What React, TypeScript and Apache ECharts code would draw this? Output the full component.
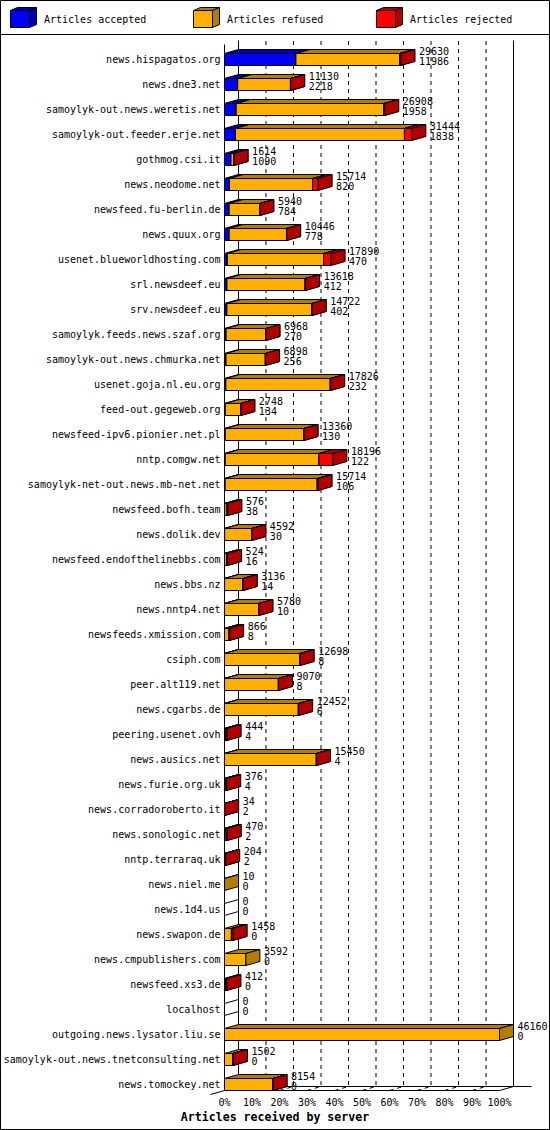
import React, { useEffect, useRef } from "react";
import * as echarts from "echarts";

const servers = [
  "news.hispagatos.org",
  "news.dne3.net",
  "samoylyk-out.news.weretis.net",
  "samoylyk-out.feeder.erje.net",
  "gothmog.csi.it",
  "news.neodome.net",
  "newsfeed.fu-berlin.de",
  "news.quux.org",
  "usenet.blueworldhosting.com",
  "srl.newsdeef.eu",
  "srv.newsdeef.eu",
  "samoylyk.feeds.news.szaf.org",
  "samoylyk-out.news.chmurka.net",
  "usenet.goja.nl.eu.org",
  "feed-out.gegeweb.org",
  "newsfeed-ipv6.pionier.net.pl",
  "nntp.comgw.net",
  "samoylyk-net-out.news.mb-net.net",
  "newsfeed.bofh.team",
  "news.dolik.dev",
  "newsfeed.endofthelinebbs.com",
  "news.bbs.nz",
  "news.nntp4.net",
  "newsfeeds.xmission.com",
  "csiph.com",
  "peer.alt119.net",
  "news.cgarbs.de",
  "peering.usenet.ovh",
  "news.ausics.net",
  "news.furie.org.uk",
  "news.corradoroberto.it",
  "news.sonologic.net",
  "nntp.terraraq.uk",
  "news.niel.me",
  "news.1d4.us",
  "news.swapon.de",
  "news.cmpublishers.com",
  "newsfeed.xs3.de",
  "localhost",
  "outgoing.news.lysator.liu.se",
  "samoylyk-out.news.tnetconsulting.net",
  "news.tomockey.net",
];

// Total articles received (first label line)
const totals = [
  29630, 11130, 26908, 31444, 1614, 15714, 5940, 10446, 17890, 13618, 14722,
  6968, 6898, 17826, 2748, 13360, 18196, 15714, 576, 4592, 524, 3136, 5780,
  866, 12698, 9070, 12452, 444, 15450, 376, 34, 470, 204, 10, 0, 1458, 3592,
  412, 0, 46160, 1502, 8154,
];

// Articles accepted (second label line, blue)
const accepted = [
  11986, 2218, 1958, 1838, 1090, 820, 784, 778, 470, 412, 402, 270, 256, 232,
  134, 130, 122, 106, 38, 30, 16, 14, 10, 8, 8, 8, 6, 4, 4, 4, 2, 2, 2, 0, 0,
  0, 0, 0, 0, 0, 0, 0,
];

// Articles refused (orange), estimated from the bars
const refused = [
  17394, 8852, 24800, 28366, 484, 13954, 5116, 9628, 16190, 13106, 14270,
  6668, 6592, 17514, 2594, 13190, 15724, 15458, 388, 4522, 388, 3092, 5740,
  758, 12640, 9032, 12386, 240, 15406, 222, 0, 268, 102, 10, 0, 1158, 3592,
  162, 0, 46160, 1352, 8124,
];

// Articles rejected (red), estimated from the bars
const rejected = [
  250, 60, 150, 1240, 40, 940, 40, 40, 1230, 100, 50, 30, 50, 80, 20, 40, 2350,
  150, 150, 40, 120, 30, 30, 100, 50, 30, 60, 200, 40, 150, 32, 200, 100, 0, 0,
  300, 0, 250, 0, 0, 150, 30,
];

const legendNames = ["Articles accepted", "Articles refused", "Articles rejected"];
const axisTitle = "Articles received by server";
const tickCount = 10;

const FRONT = ["#0000FF", "#FFAF00", "#FF0000"];
const DARK = ["#0000B0", "#B47C00", "#B00000"];
const FONT = '"DejaVu Sans Mono", "Liberation Mono", monospace';
const DX = 14;
const DY = 4;
const HALF = 6;

export default function App() {
  const ref = useRef<HTMLDivElement>(null);

  useEffect(() => {
    document.body.style.margin = "0";
    const chart = echarts.init(ref.current as HTMLDivElement, null, {
      renderer: "svg",
    });
    const axisMax = Math.max(...totals);
    const rows = servers.map((_, i) => [
      i,
      accepted[i],
      refused[i],
      rejected[i],
      totals[i],
    ]);
    const last = servers.length - 1;
    const black = "#000";

    const renderFrame = (_params: any, api: any) => {
      const x0 = api.coord([0, 0])[0];
      const x100 = api.coord([axisMax, 0])[0];
      const yTop = api.coord([0, 0])[1] - 19;
      const yFloor = api.coord([0, last])[1] + HALF;
      const yBack = yFloor - DY;
      const line = (x1: number, y1: number, x2: number, y2: number) => ({
        type: "line",
        shape: { x1, y1, x2, y2 },
        style: { stroke: black, lineWidth: 1 },
        silent: true,
      });
      const children: any[] = [];
      for (let k = 1; k < tickCount; k++) {
        const x = api.coord([(axisMax * k) / tickCount, 0])[0];
        children.push({
          type: "polyline",
          shape: {
            points: [
              [x, yFloor],
              [x + DX, yBack],
              [x + DX, yTop],
            ],
          },
          style: { stroke: black, fill: "none", lineWidth: 1, lineDash: [4, 4] },
          silent: true,
        });
      }
      children.push(line(x0, yTop + DY, x0, yFloor));
      children.push(line(x0 + DX, yTop, x0 + DX, yBack));
      children.push(line(x100 + DX, yTop, x100 + DX, yBack));
      children.push(line(x0 + DX, yBack, x100 + DX + 18, yBack));
      children.push(line(x0, yFloor, x100, yFloor));
      children.push(line(x100, yFloor, x100 + DX, yBack));
      children.push(line(x0 - DX, yFloor + DY, x0 + DX, yBack));
      return { type: "group", children };
    };

    const renderBar = (_params: any, api: any) => {
      const row = api.value(0);
      const vals = [api.value(1), api.value(2), api.value(3)];
      const total = api.value(4);
      const p0 = api.coord([0, row]);
      const x0 = p0[0];
      const yc = p0[1];
      const yt = yc - HALF;
      const yb = yc + HALF;
      const children: any[] = [];
      const face = (pts: number[][], fill: string) => ({
        type: "polygon",
        shape: { points: pts },
        style: { fill, stroke: black, lineWidth: 1 },
      });
      if (vals.every((v) => v <= 0)) {
        children.push(
          face(
            [
              [x0, yt],
              [x0 + DX, yt - DY],
              [x0 + DX, yb - DY],
              [x0, yb],
            ],
            "#FFFFFF"
          )
        );
      }
      let cum = 0;
      let xs = x0;
      vals.forEach((v, s) => {
        if (v <= 0) return;
        cum += v;
        const xe = api.coord([cum, row])[0];
        children.push({
          type: "rect",
          shape: { x: xs, y: yt, width: xe - xs, height: yb - yt },
          style: { fill: FRONT[s], stroke: black, lineWidth: 1 },
        });
        children.push(
          face(
            [
              [xs, yt],
              [xs + DX, yt - DY],
              [xe + DX, yt - DY],
              [xe, yt],
            ],
            DARK[s]
          )
        );
        children.push(
          face(
            [
              [xe, yt],
              [xe + DX, yt - DY],
              [xe + DX, yb - DY],
              [xe, yb],
            ],
            DARK[s]
          )
        );
        xs = xe;
      });
      const xt = api.coord([total, row])[0] + DX + 4;
      const textStyle = (text: string) => ({
        text,
        fill: black,
        fontFamily: FONT,
        fontSize: 10,
        align: "left",
        verticalAlign: "middle",
      });
      children.push({ type: "text", x: xt, y: yc - 8.5, style: textStyle(String(total)) });
      children.push({
        type: "text",
        x: xt,
        y: yc + 1.5,
        style: textStyle(String(api.value(1))),
      });
      return { type: "group", children };
    };

    const legendIconX = [10.5, 193.5, 376.5];
    const legendGraphic: any[] = [];
    legendNames.forEach((name, i) => {
      const x = legendIconX[i];
      legendGraphic.push({
        type: "polygon",
        shape: {
          points: [
            [x, 10.5],
            [x + 7, 7.5],
            [x + 26, 7.5],
            [x + 19, 10.5],
          ],
        },
        style: { fill: DARK[i], stroke: black, lineWidth: 1 },
      });
      legendGraphic.push({
        type: "polygon",
        shape: {
          points: [
            [x + 19, 10.5],
            [x + 26, 7.5],
            [x + 26, 24.5],
            [x + 19, 27.5],
          ],
        },
        style: { fill: DARK[i], stroke: black, lineWidth: 1 },
      });
      legendGraphic.push({
        type: "rect",
        shape: { x, y: 10.5, width: 19, height: 17 },
        style: { fill: FRONT[i], stroke: black, lineWidth: 1 },
      });
      legendGraphic.push({
        type: "text",
        x: x + 33.5,
        y: 19.5,
        style: {
          text: name,
          fill: black,
          fontFamily: FONT,
          fontSize: 10,
          align: "left",
          verticalAlign: "middle",
        },
      });
    });

    chart.setOption({
      animation: false,
      backgroundColor: "#FFFFFF",
      title: {
        text: axisTitle,
        left: "center",
        top: 1111,
        padding: 0,
        textStyle: {
          fontFamily: FONT,
          fontSize: 11.6,
          fontWeight: "bold",
          color: black,
        },
      },
      grid: { left: 224.5, top: 47, width: 275, height: 1050 },
      xAxis: {
        type: "value",
        min: 0,
        max: axisMax,
        interval: axisMax / tickCount,
        axisLine: { show: false },
        axisTick: { show: false },
        splitLine: { show: false },
        axisLabel: {
          margin: 0,
          color: black,
          fontFamily: FONT,
          fontSize: 10,
          formatter: (v: number) => Math.round((v / axisMax) * 100) + "%",
        },
      },
      yAxis: {
        type: "category",
        inverse: true,
        data: servers,
        axisLine: { show: false },
        axisTick: { show: false },
        splitLine: { show: false },
        axisLabel: {
          interval: 0,
          margin: 4,
          color: black,
          fontFamily: FONT,
          fontSize: 10,
        },
      },
      graphic: [
        {
          type: "rect",
          z: 100,
          shape: { x: 0.5, y: 0.5, width: 549, height: 1129 },
          style: { fill: "none", stroke: black, lineWidth: 1 },
        },
        {
          type: "line",
          z: 100,
          shape: { x1: 0, y1: 34.5, x2: 550, y2: 34.5 },
          style: { stroke: black, lineWidth: 1 },
        },
        ...legendGraphic,
      ],
      series: [
        {
          type: "custom",
          name: "frame",
          coordinateSystem: "cartesian2d",
          renderItem: renderFrame,
          data: [[0, 0]],
          silent: true,
          z: 1,
        },
        {
          type: "custom",
          name: "articles",
          coordinateSystem: "cartesian2d",
          renderItem: renderBar,
          dimensions: ["row", "accepted", "refused", "rejected", "total"],
          encode: { x: 4, y: 0 },
          data: rows,
          z: 2,
        },
      ],
    });

    return () => {
      chart.dispose();
    };
  }, []);

  return <div ref={ref} style={{ width: 550, height: 1130 }} />;
}
